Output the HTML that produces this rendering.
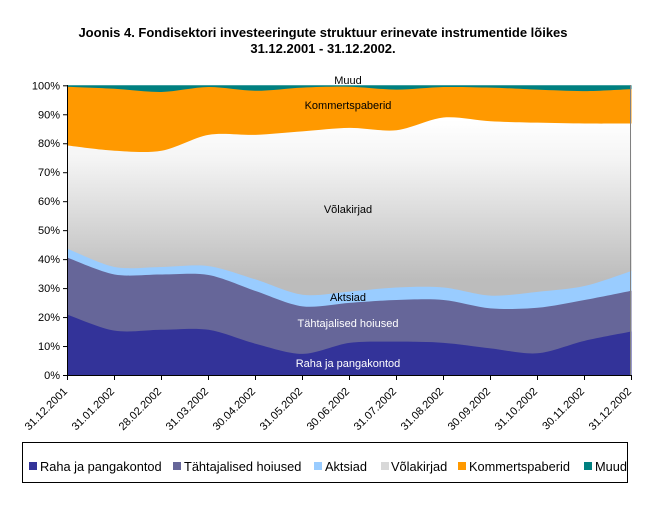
<!DOCTYPE html>
<html><head><meta charset="utf-8"><style>
body{margin:0;background:#fff;}
svg{display:block;font-family:"Liberation Sans",Arial,sans-serif;}
</style></head><body>
<svg id="s" width="646" height="517" viewBox="0 0 646 517">
<defs>
<linearGradient id="g" gradientUnits="userSpaceOnUse" x1="0" y1="120" x2="0" y2="280">
<stop offset="0" stop-color="#ffffff"/><stop offset="0.25" stop-color="#f4f4f4"/><stop offset="1" stop-color="#bcbcbc"/>
</linearGradient>
</defs>
<text x="323" y="37" font-size="13" font-weight="bold" text-anchor="middle">Joonis 4. Fondisektori investeeringute struktuur erinevate instrumentide lõikes</text>
<text x="323" y="53" font-size="13" font-weight="bold" text-anchor="middle">31.12.2001 - 31.12.2002.</text>
<g id="areas"></g>
<g font-size="11" text-anchor="end" id="yl"></g>
<line x1="67.5" y1="85" x2="67.5" y2="375" stroke="#000"/>
<line x1="67" y1="375.5" x2="631" y2="375.5" stroke="#000"/>
<line x1="630.5" y1="85" x2="630.5" y2="375" stroke="#808080"/>
<g id="xt"></g>
<g font-size="11">
<text x="348" y="84" text-anchor="middle">Muud</text>
<text x="348" y="109" text-anchor="middle">Kommertspaberid</text>
<text x="348" y="213" text-anchor="middle">Võlakirjad</text>
<text x="348" y="301" text-anchor="middle">Aktsiad</text>
<text x="348" y="327" text-anchor="middle" fill="#fff">Tähtajalised hoiused</text>
<text x="348" y="367" text-anchor="middle" fill="#fff">Raha ja pangakontod</text>
</g>
<rect x="22.5" y="442.5" width="605" height="40" fill="none" stroke="#000"/>
<g font-size="12.8">
<rect x="29" y="462" width="8" height="8" fill="#333399"/><text x="40" y="471">Raha ja pangakontod</text>
<rect x="173" y="462" width="8" height="8" fill="#666699"/><text x="184" y="471">Tähtajalised hoiused</text>
<rect x="314" y="462" width="8" height="8" fill="#99ccff"/><text x="325" y="471">Aktsiad</text>
<rect x="381" y="462" width="8" height="8" fill="#d8d8d8"/><text x="391" y="471">Võlakirjad</text>
<rect x="458" y="462" width="8" height="8" fill="#ff9900"/><text x="469" y="471">Kommertspaberid</text>
<rect x="584" y="462" width="8" height="8" fill="#008080"/><text x="595" y="471">Muud</text>
</g>
</svg>
<script>
(function(){
var ns="http://www.w3.org/2000/svg",s=document.getElementById('s');
var X=function(i){return 67.5+i*47;},Y=function(v){return 375-v*2.897;};
var cum=[
[20.8,15.3,15.6,15.6,10.8,7.3,11.1,11.5,11.1,9.2,7.5,11.8,15],
[40.5,34.7,34.7,34.5,29,23.7,24.9,25.9,25.9,23,23.2,25.9,29.1],
[43.6,37.3,37.3,37.6,33,27.7,28.8,30.2,30.2,27.4,28.7,30.7,35.9],
[79.2,77.4,77.4,82.9,82.9,84.1,85.3,84.5,88.9,87.6,87.1,86.8,86.8],
[99.5,98.8,97.7,99.4,98.1,99.2,99.5,98.5,99.4,99.2,98.5,98,98.7],
[100,100,100,100,100,100,100,100,100,100,100,100,100]];
var cols=["#333399","#666699","#99ccff","url(#g)","#ff9900","#008080"];
function curve(a){var p=a.map(function(v,i){return [X(i),Y(v)];});
var d="";for(var i=0;i<p.length-1;i++){var p0=p[i-1]||p[i],p1=p[i],p2=p[i+1],p3=p[i+2]||p2;var t=0.15;
d+=" C"+(p1[0]+(p2[0]-p0[0])*t)+","+(p1[1]+(p2[1]-p0[1])*t)+" "+(p2[0]-(p3[0]-p1[0])*t)+","+(p2[1]-(p3[1]-p1[1])*t)+" "+p2[0]+","+p2[1];}
return {start:p[0],d:d};}
var g=document.getElementById('areas');
for(var k=5;k>=0;k--){var c=curve(cum[k]);var el=document.createElementNS(ns,'path');
var d="M"+X(0)+","+Y(0)+" L"+c.start[0]+","+c.start[1]+c.d+" L"+X(12)+","+Y(0)+"Z";
el.setAttribute('d',d);el.setAttribute('fill',cols[k]);g.appendChild(el);}
var yl=document.getElementById('yl');
for(var i=0;i<=10;i++){var t=document.createElementNS(ns,'text');t.setAttribute('x',60);t.setAttribute('y',Y(i*10)+4);t.textContent=(i*10)+"%";yl.appendChild(t);
var l=document.createElementNS(ns,'line');l.setAttribute('x1',63);l.setAttribute('x2',67);l.setAttribute('y1',Y(i*10)+0.5);l.setAttribute('y2',Y(i*10)+0.5);l.setAttribute('stroke','#000');s.appendChild(l);}
var labs=["31.12.2001","31.01.2002","28.02.2002","31.03.2002","30.04.2002","31.05.2002","30.06.2002","31.07.2002","31.08.2002","30.09.2002","31.10.2002","30.11.2002","31.12.2002"];
var xt=document.getElementById('xt');
labs.forEach(function(L,i){var x=X(i);var l=document.createElementNS(ns,'line');l.setAttribute('x1',x);l.setAttribute('x2',x);l.setAttribute('y1',375);l.setAttribute('y2',380);l.setAttribute('stroke','#000');xt.appendChild(l);
var t=document.createElementNS(ns,'text');t.setAttribute('font-size','11');t.setAttribute('text-anchor','end');t.setAttribute('transform','translate('+(x+0.5)+',392) rotate(-45)');t.textContent=L;xt.appendChild(t);});
})();
</script>
</body></html>
